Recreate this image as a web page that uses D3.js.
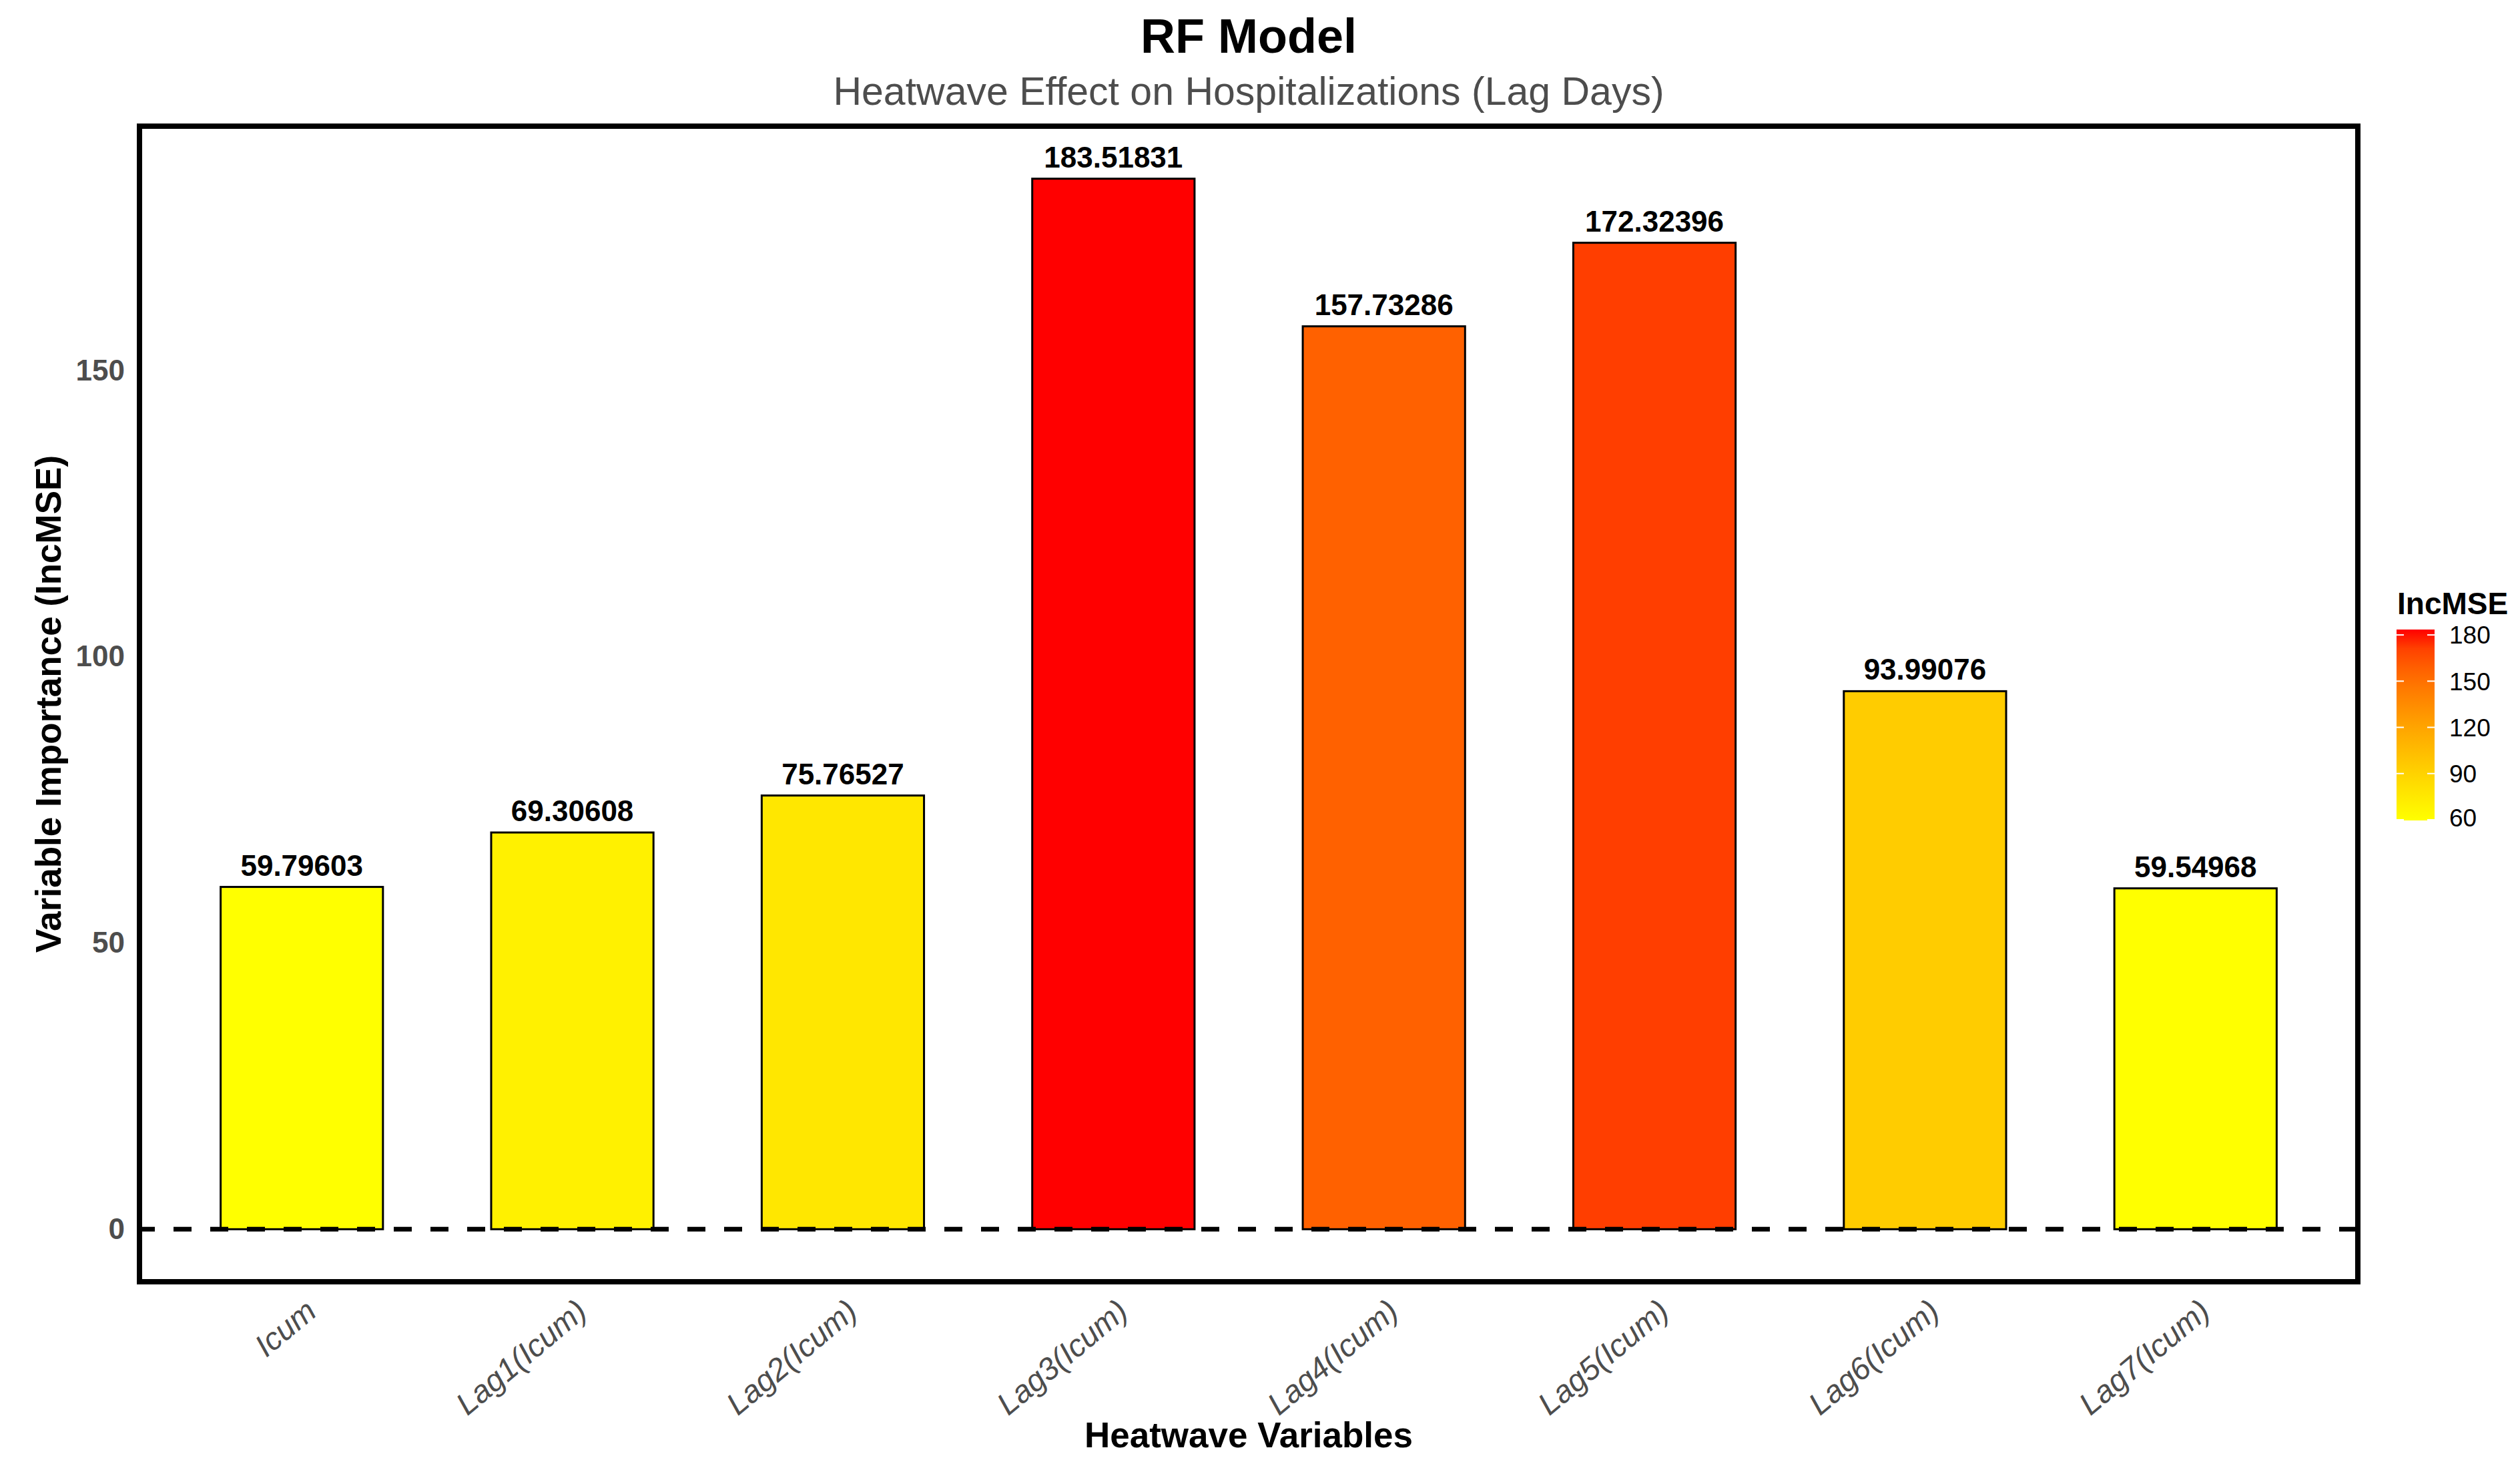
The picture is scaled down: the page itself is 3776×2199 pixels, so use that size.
<!DOCTYPE html>
<html>
<head>
<meta charset="utf-8">
<script src="https://cdn.jsdelivr.net/npm/d3@7"></script>
<style>
  body { margin: 0; background: #fff; }
  svg text { font-family: "Liberation Sans", Arial, sans-serif; }
</style>
</head>
<body>
<svg id="chart" width="3776" height="2199"></svg>
<script>
// Data
const variables = ['Icum', 'Lag1(Icum)', 'Lag2(Icum)', 'Lag3(Icum)', 'Lag4(Icum)', 'Lag5(Icum)', 'Lag6(Icum)', 'Lag7(Icum)'];
const incMSE = [59.79603, 69.30608, 75.76527, 183.51831, 157.73286, 172.32396, 93.99076, 59.54968];
const yTicks = [0, 50, 100, 150];
const legendTicks = [60, 90, 120, 150, 180];

const svg = d3.select('#chart');
const width = 3776;
const height = 2199;

// Panel box (ggplot panel with border)
const panel = { left: 209, right: 3533, top: 189, bottom: 1920 };

const data = variables.map((v, i) => ({ name: v, value: incMSE[i] }));

// Scales
const xScale = d3.scaleBand()
  .domain(variables)
  .range([panel.left, panel.right])
  .paddingInner(0.4)
  .paddingOuter(0.3);

const maxVal = d3.max(incMSE);
const pad = maxVal * 0.05;
const yScale = d3.scaleLinear()
  .domain([-pad, maxVal + pad])
  .range([panel.bottom, panel.top]);

const minVal = d3.min(incMSE);
const colorScale = d3.scaleLinear()
  .domain([minVal, maxVal])
  .range(['yellow', 'red'])
  .interpolate(d3.interpolateLab);

// Background
svg.append('rect').attr('width', width).attr('height', height).attr('fill', '#fff');

// Bars
svg.append('g').selectAll('rect')
  .data(data)
  .enter()
  .append('rect')
  .attr('x', d => xScale(d.name))
  .attr('y', d => yScale(d.value))
  .attr('width', xScale.bandwidth())
  .attr('height', d => yScale(0) - yScale(d.value))
  .attr('fill', d => colorScale(d.value))
  .attr('stroke', '#000')
  .attr('stroke-width', 3);

// Dashed zero line
svg.append('line')
  .attr('x1', panel.left)
  .attr('x2', panel.right)
  .attr('y1', yScale(0))
  .attr('y2', yScale(0))
  .attr('stroke', '#000')
  .attr('stroke-width', 7)
  .attr('stroke-dasharray', '27,28')
  .attr('stroke-dashoffset', 4);

// Value labels above bars
svg.append('g').selectAll('text')
  .data(data)
  .enter()
  .append('text')
  .attr('x', d => xScale(d.name) + xScale.bandwidth() / 2)
  .attr('y', d => yScale(d.value) - 17)
  .attr('text-anchor', 'middle')
  .attr('font-size', 44)
  .attr('font-weight', 'bold')
  .attr('fill', '#000')
  .text(d => d3.format('.5f')(d.value));

// Panel border
svg.append('rect')
  .attr('x', panel.left)
  .attr('y', panel.top)
  .attr('width', panel.right - panel.left)
  .attr('height', panel.bottom - panel.top)
  .attr('fill', 'none')
  .attr('stroke', '#000')
  .attr('stroke-width', 8);

// Y axis (labels only, no ticks)
const yAxis = svg.append('g')
  .attr('transform', `translate(${panel.left - 22},0)`)
  .call(d3.axisLeft(yScale).tickValues(yTicks).tickSize(0).tickPadding(0));
yAxis.select('.domain').remove();
yAxis.selectAll('text')
  .attr('font-size', 44)
  .attr('font-weight', 'bold')
  .attr('fill', '#4d4d4d')
  .attr('font-family', '"Liberation Sans", Arial, sans-serif');

// X axis labels, rotated
const xAxis = svg.append('g')
  .attr('transform', `translate(0,${panel.bottom + 22})`)
  .call(d3.axisBottom(xScale).tickSize(0).tickPadding(0));
xAxis.select('.domain').remove();
xAxis.selectAll('text')
  .attr('font-size', 47)
  .attr('font-style', 'italic')
  .attr('fill', '#4d4d4d')
  .attr('font-family', '"Liberation Sans", Arial, sans-serif')
  .attr('text-anchor', 'end')
  .attr('dy', '0.75em')
  .attr('transform', 'translate(2,0) rotate(-40)');

// Titles
svg.append('text')
  .attr('x', (panel.left + panel.right) / 2)
  .attr('y', 79)
  .attr('text-anchor', 'middle')
  .attr('font-size', 72)
  .attr('font-weight', 'bold')
  .text('RF Model');

svg.append('text')
  .attr('x', (panel.left + panel.right) / 2)
  .attr('y', 157)
  .attr('text-anchor', 'middle')
  .attr('font-size', 59)
  .attr('fill', '#4d4d4d')
  .text('Heatwave Effect on Hospitalizations (Lag Days)');

svg.append('text')
  .attr('x', (panel.left + panel.right) / 2)
  .attr('y', 2168)
  .attr('text-anchor', 'middle')
  .attr('font-size', 53)
  .attr('font-weight', 'bold')
  .text('Heatwave Variables');

svg.append('text')
  .attr('transform', `translate(91,${(panel.top + panel.bottom) / 2}) rotate(-90)`)
  .attr('text-anchor', 'middle')
  .attr('font-size', 53)
  .attr('font-weight', 'bold')
  .text('Variable Importance (IncMSE)');

// Colour bar legend
const legend = { x: 3591, width: 57, top: 943, bottom: 1229 };
const legendScale = d3.scaleLinear()
  .domain([minVal, maxVal])
  .range([legend.bottom, legend.top]);

const defs = svg.append('defs');
const grad = defs.append('linearGradient')
  .attr('id', 'incmse-grad')
  .attr('x1', 0).attr('y1', 1).attr('x2', 0).attr('y2', 0);
d3.range(0, 1.0001, 0.1).forEach(t => {
  grad.append('stop')
    .attr('offset', t)
    .attr('stop-color', colorScale(minVal + t * (maxVal - minVal)));
});

svg.append('text')
  .attr('x', 3592)
  .attr('y', 920)
  .attr('font-size', 46)
  .attr('font-weight', 'bold')
  .text('IncMSE');

svg.append('rect')
  .attr('x', legend.x)
  .attr('y', legend.top)
  .attr('width', legend.width)
  .attr('height', legend.bottom - legend.top)
  .attr('fill', 'url(#incmse-grad)');

const legendTickG = svg.append('g');
legendTicks.filter(v => v >= minVal && v <= maxVal).forEach(v => {
  legendTickG.append('line')
    .attr('x1', legend.x).attr('x2', legend.x + 11)
    .attr('y1', legendScale(v)).attr('y2', legendScale(v))
    .attr('stroke', '#fff').attr('stroke-width', 2);
  legendTickG.append('line')
    .attr('x1', legend.x + legend.width - 11).attr('x2', legend.x + legend.width)
    .attr('y1', legendScale(v)).attr('y2', legendScale(v))
    .attr('stroke', '#fff').attr('stroke-width', 2);
});

svg.append('g').selectAll('text')
  .data(legendTicks)
  .enter()
  .append('text')
  .attr('x', 3670)
  .attr('y', d => Math.min(legendScale(d), legend.bottom - 4))
  .attr('dy', '0.36em')
  .attr('font-size', 37)
  .attr('fill', '#000')
  .text(d => d);
</script>
</body>
</html>
